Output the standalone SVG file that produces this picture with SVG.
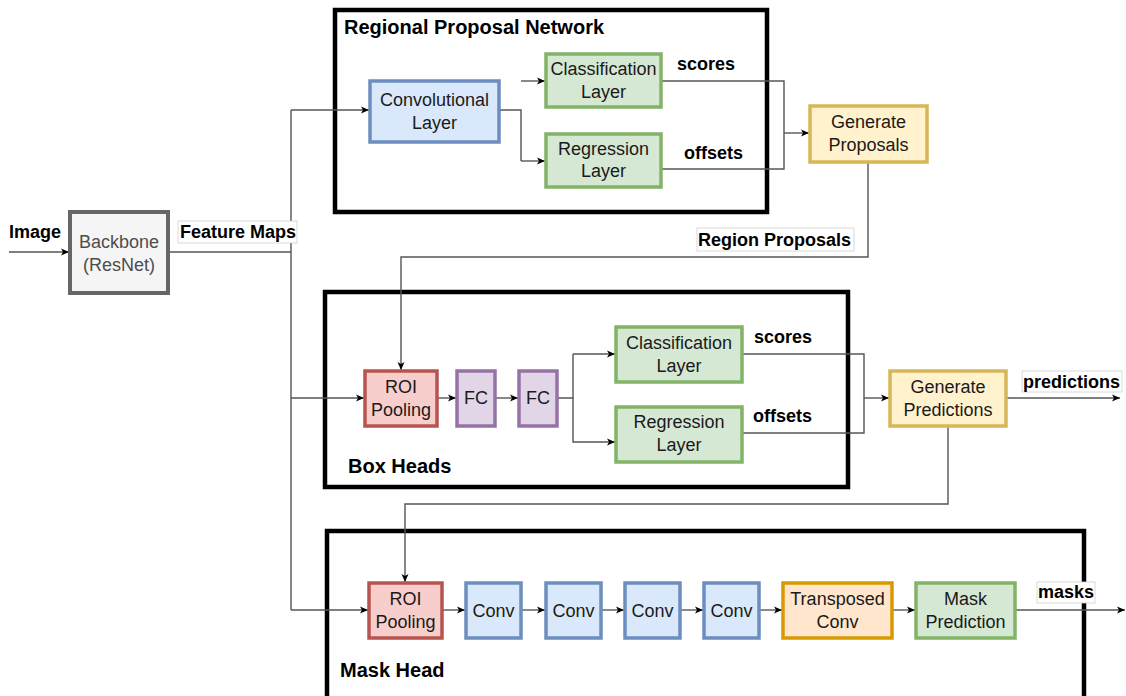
<svg xmlns="http://www.w3.org/2000/svg" width="1126" height="696" viewBox="0 0 1126 696">
<defs>
<marker id="arr" markerWidth="9" markerHeight="8" refX="8" refY="4" orient="auto" markerUnits="userSpaceOnUse">
<path d="M0,0.5 L8,4 L0,7.5 L2,4 Z" fill="#000"/>
</marker>
<style>
text{font-family:"Liberation Sans",Arial,Helvetica,sans-serif;}
.t{font-size:18px;fill:#1a1a1a;text-anchor:middle;}
.b{font-size:18px;font-weight:bold;fill:#000;}
.h{font-size:20px;font-weight:bold;fill:#000;}
.lbg{fill:#fff;stroke:#d0d0d0;stroke-width:0.8;}
.c{fill:none;stroke:#555;stroke-width:1.4;}
.ca{fill:none;stroke:#555;stroke-width:1.4;marker-end:url(#arr);}
.cont{fill:none;stroke:#000;stroke-width:4.5;}
.blue{fill:#dae8fc;stroke:#6c8ebf;stroke-width:3.5;}
.green{fill:#d5e8d4;stroke:#82b366;stroke-width:3.5;}
.yellow{fill:#fff2cc;stroke:#d6b656;stroke-width:3.5;}
.red{fill:#f8cecc;stroke:#b85450;stroke-width:3.5;}
.purple{fill:#e1d5e7;stroke:#9673a6;stroke-width:3.5;}
.orange{fill:#ffe6cc;stroke:#d79b00;stroke-width:3.5;}
.gray{fill:#f5f5f5;stroke:#666;stroke-width:4;}
</style>
</defs>
<rect width="1126" height="696" fill="#fff"/>

<g id="containers">
<g id="rpn"><rect class="cont" x="335" y="10" width="432" height="202"/><text class="h" x="344" y="34">Regional Proposal Network</text></g>
<g id="boxheads"><rect class="cont" x="325" y="292" width="523" height="195"/><text class="h" x="348" y="473">Box Heads</text></g>
<g id="maskhead"><rect class="cont" x="327" y="531" width="757" height="180"/><text class="h" x="340" y="677">Mask Head</text></g>
</g>

<g id="connectors">
<path class="ca" d="M9,252 H69"/>
<path class="c" d="M168,252 H291"/>
<path class="c" d="M291,110 V610"/>
<path class="ca" d="M291,110 H369"/>
<path class="ca" d="M291,398 H364"/>
<path class="ca" d="M291,610 H368"/>
<path class="c" d="M499,110 H521 V161"/>
<path class="ca" d="M521,81 H545"/>
<path class="ca" d="M521,161 H545"/>
<path class="c" d="M661,81 H784 V169 H661"/>
<path class="ca" d="M784,133 H809"/>
<path class="ca" d="M868,162 V257 H401 V370"/>
<path class="ca" d="M437,398 H456"/>
<path class="ca" d="M495,398 H518"/>
<path class="c" d="M557,398 H573 V354"/>
<path class="ca" d="M573,354 H615"/>
<path class="ca" d="M573,398 V442 H615"/>
<path class="c" d="M742,354 H864 V433 H742"/>
<path class="ca" d="M864,398 H889"/>
<path class="ca" d="M1006,398 H1120"/>
<path class="ca" d="M948,426 V504 H405 V582"/>
<path class="ca" d="M442,610 H465"/>
<path class="ca" d="M521,610 H545"/>
<path class="ca" d="M601,610 H624"/>
<path class="ca" d="M680,610 H703"/>
<path class="ca" d="M759,610 H782"/>
<path class="ca" d="M892,610 H915"/>
<path class="ca" d="M1015,610 H1125"/>
</g>

<g id="labels">
<g id="lbl-image"><text class="b" x="9" y="238">Image</text></g>
<g id="lbl-feature"><rect class="lbg" x="178" y="221" width="119" height="22"/><text class="b" x="180" y="238">Feature Maps</text></g>
<g id="lbl-scores1"><text class="b" x="677" y="70">scores</text></g>
<g id="lbl-offsets1"><text class="b" x="684" y="159">offsets</text></g>
<g id="lbl-region"><rect class="lbg" x="697" y="228" width="157" height="23"/><text class="b" x="698" y="246">Region Proposals</text></g>
<g id="lbl-scores2"><text class="b" x="754" y="343">scores</text></g>
<g id="lbl-offsets2"><text class="b" x="753" y="422">offsets</text></g>
<g id="lbl-pred"><rect class="lbg" x="1022" y="371" width="100" height="21"/><text class="b" x="1023" y="388">predictions</text></g>
<g id="lbl-masks"><rect class="lbg" x="1037" y="582" width="58" height="21"/><text class="b" x="1038" y="598">masks</text></g>
</g>

<g id="backbone"><rect class="gray" x="70" y="212" width="98" height="81"/><text class="t" x="119" y="248" style="fill:#4d4d4d">Backbone</text><text class="t" x="119" y="271" style="fill:#4d4d4d">(ResNet)</text></g>

<g id="rpn-conv"><rect class="blue" x="370" y="81" width="129" height="61"/><text class="t" x="434.5" y="106">Convolutional</text><text class="t" x="434.5" y="129">Layer</text></g>
<g id="rpn-cls"><rect class="green" x="546" y="54" width="115" height="53"/><text class="t" x="603.5" y="75">Classification</text><text class="t" x="603.5" y="98">Layer</text></g>
<g id="rpn-reg"><rect class="green" x="546" y="134" width="115" height="53"/><text class="t" x="603.5" y="155">Regression</text><text class="t" x="603.5" y="177">Layer</text></g>
<g id="gen-proposals"><rect class="yellow" x="810" y="106" width="117" height="56"/><text class="t" x="868.5" y="128">Generate</text><text class="t" x="868.5" y="151">Proposals</text></g>

<g id="box-roi"><rect class="red" x="365" y="371" width="72" height="55"/><text class="t" x="401" y="393">ROI</text><text class="t" x="401" y="416">Pooling</text></g>
<g id="box-fc1"><rect class="purple" x="457" y="371" width="38" height="55"/><text class="t" x="476" y="404">FC</text></g>
<g id="box-fc2"><rect class="purple" x="519" y="371" width="38" height="55"/><text class="t" x="538" y="404">FC</text></g>
<g id="box-cls"><rect class="green" x="616" y="327" width="126" height="55"/><text class="t" x="679" y="349">Classification</text><text class="t" x="679" y="372">Layer</text></g>
<g id="box-reg"><rect class="green" x="616" y="407" width="126" height="55"/><text class="t" x="679" y="428">Regression</text><text class="t" x="679" y="451">Layer</text></g>
<g id="gen-predictions"><rect class="yellow" x="890" y="371" width="116" height="55"/><text class="t" x="948" y="393">Generate</text><text class="t" x="948" y="416">Predictions</text></g>

<g id="mask-roi"><rect class="red" x="369" y="583" width="73" height="55"/><text class="t" x="405.5" y="605">ROI</text><text class="t" x="405.5" y="628">Pooling</text></g>
<g id="mask-conv1"><rect class="blue" x="466" y="583" width="55" height="55"/><text class="t" x="493.5" y="617">Conv</text></g>
<g id="mask-conv2"><rect class="blue" x="546" y="583" width="55" height="55"/><text class="t" x="573.5" y="617">Conv</text></g>
<g id="mask-conv3"><rect class="blue" x="625" y="583" width="55" height="55"/><text class="t" x="652.5" y="617">Conv</text></g>
<g id="mask-conv4"><rect class="blue" x="704" y="583" width="55" height="55"/><text class="t" x="731.5" y="617">Conv</text></g>
<g id="mask-tconv"><rect class="orange" x="783" y="583" width="109" height="55"/><text class="t" x="837.5" y="605">Transposed</text><text class="t" x="837.5" y="628">Conv</text></g>
<g id="mask-pred"><rect class="green" x="916" y="583" width="99" height="55"/><text class="t" x="965.5" y="605">Mask</text><text class="t" x="965.5" y="628">Prediction</text></g>
</svg>
